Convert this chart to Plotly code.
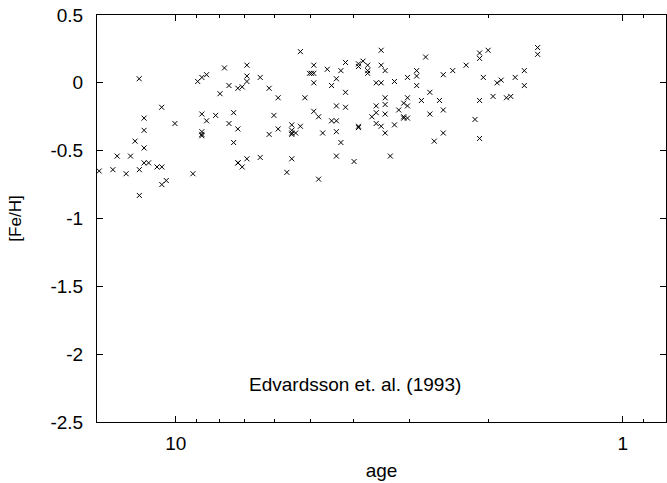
import plotly.graph_objects as go
import math

age = [14.83, 13.82, 13.52, 12.91, 12.62, 12.33, 12.07, 12.06, 12.06, 11.77,
       11.77, 11.77, 11.77, 11.50, 11.01, 10.74, 10.75, 10.74, 10.50, 10.04,
       9.15, 8.93, 8.74, 8.53, 8.74, 8.53, 8.74, 8.74, 8.74, 8.14,
       7.96, 7.78, 7.60, 7.60, 7.42, 7.42, 7.26, 7.26, 7.26, 7.25,
       7.10, 7.10, 6.93, 6.93, 6.93, 6.93, 6.47, 6.47, 6.18, 6.18,
       6.03, 5.90, 5.90, 5.64, 5.50, 5.50, 5.50, 5.50, 5.39, 5.50,
       5.26, 5.26, 5.14, 5.02, 4.97, 4.91, 4.91, 4.91, 4.91, 4.79,
       4.79, 4.69, 4.58, 4.48, 4.48, 4.37, 4.37, 4.37, 4.37, 4.37,
       4.27, 4.27, 4.17, 4.17, 4.17, 3.99, 3.90, 3.90, 3.90, 3.90,
       3.81, 3.72, 3.72, 3.72, 3.64, 3.56, 3.56, 3.56, 3.56, 3.47,
       3.47, 3.47, 3.47, 3.40, 3.40, 3.40, 3.40, 3.40, 3.31, 3.24,
       3.24, 3.17, 3.09, 3.09, 3.09, 3.03, 3.03, 3.03, 3.03, 2.89,
       2.89, 2.89, 2.82, 2.76, 2.70, 2.70, 2.64, 2.57, 2.52, 2.52,
       2.52, 2.40, 2.24, 2.14, 2.09, 2.09, 2.09, 2.09, 2.05, 2.00,
       1.95, 1.91, 1.87, 1.82, 1.78, 1.74, 1.66, 1.66, 1.55, 1.55]

feh = [-0.65, -0.64, -0.54, -0.67, -0.54, -0.43, 0.03, -0.64, -0.83, -0.26,
       -0.35, -0.48, -0.59, -0.59, -0.62, -0.62, -0.18, -0.75, -0.72, -0.30,
       -0.67, 0.01, 0.04, 0.06, -0.23, -0.28, -0.36, -0.38, -0.39, -0.24,
       -0.08, 0.11, -0.02, -0.30, -0.22, -0.44, -0.04, -0.34, -0.59, -0.59,
       -0.62, -0.03, 0.13, 0.05, 0.01, -0.56, 0.04, -0.55, -0.04, -0.38,
       -0.24, -0.11, -0.34, -0.66, -0.31, -0.35, -0.37, -0.38, -0.37, -0.56,
       0.23, -0.32, -0.11, 0.07, 0.07, 0.07, 0.13, 0.00, -0.21, -0.25,
       -0.71, -0.37, 0.10, -0.02, -0.28, -0.28, 0.03, -0.17, -0.36, -0.54,
       0.09, -0.44, 0.15, -0.07, -0.18, -0.58, 0.14, 0.12, -0.32, -0.33,
       0.16, 0.13, 0.09, 0.07, -0.25, 0.00, -0.17, -0.22, -0.30, 0.24,
       0.13, 0.00, -0.32, 0.09, -0.11, -0.16, -0.23, -0.37, -0.54, 0.01,
       -0.31, -0.20, -0.15, -0.25, -0.26, 0.04, -0.11, -0.17, -0.26, 0.09,
       0.05, -0.02, -0.13, 0.19, -0.07, -0.23, -0.43, -0.13, 0.06, -0.20,
       -0.37, 0.09, 0.13, -0.27, 0.22, 0.18, -0.13, -0.41, 0.04, 0.24,
       -0.10, 0.00, 0.02, -0.11, -0.10, 0.04, 0.09, -0.02, 0.26, 0.21]

x_range = [15, 0.8]
y_range = [-2.5, 0.5]
x_major = [10, 1]
x_major_text = ["10", "1"]
x_minor = [9, 8, 7, 6, 5, 4, 3, 2, 0.9]
y_ticks = [0.5, 0, -0.5, -1, -1.5, -2, -2.5]
y_tick_text = ["0.5", "0", "-0.5", "-1", "-1.5", "-2", "-2.5"]
label_text = "Edvardsson et. al. (1993)"

FONT = "Liberation Sans, Arial, Helvetica, sans-serif"
FS = 19

fig = go.Figure()
fig.add_trace(go.Scatter(
    x=age, y=feh, mode="markers",
    marker=dict(symbol="x-thin", size=5, color="black",
                line=dict(color="black", width=1)),
    showlegend=False, hoverinfo="x+y",
))

fig.update_layout(
    width=667, height=483,
    margin=dict(l=97, r=1, t=15, b=61),
    paper_bgcolor="white", plot_bgcolor="white",
    font=dict(family=FONT, size=FS, color="black"),
    xaxis=dict(
        type="log",
        range=[math.log10(x_range[0]), math.log10(x_range[1])],
        tickmode="array", tickvals=x_major, ticktext=x_major_text,
        ticks="inside", ticklen=6, tickwidth=1, tickcolor="black",
        minor=dict(tickmode="array", tickvals=x_minor, ticks="inside",
                   ticklen=3, tickwidth=1, tickcolor="black", showgrid=False),
        showline=True, linecolor="black", linewidth=1, mirror="ticks",
        showgrid=False, zeroline=False,
        ticklabelstandoff=4,
        title=dict(text="age", standoff=10, font=dict(size=FS)),
        tickfont=dict(size=FS),
    ),
    yaxis=dict(
        range=y_range,
        tickmode="array", tickvals=y_ticks, ticktext=y_tick_text,
        ticks="inside", ticklen=6, tickwidth=1, tickcolor="black",
        showline=True, linecolor="black", linewidth=1, mirror="ticks",
        showgrid=False, zeroline=False,
        ticklabelstandoff=9,
        title=dict(text="[Fe/H]", standoff=24, font=dict(size=FS - 2)),
        tickfont=dict(size=FS),
    ),
    annotations=[dict(
        text=label_text, xref="paper", yref="paper",
        x=0.453, y=0.091, xanchor="center", yanchor="middle", showarrow=False,
        font=dict(size=FS, family=FONT),
    )],
)

fig.write_html("out.html")
